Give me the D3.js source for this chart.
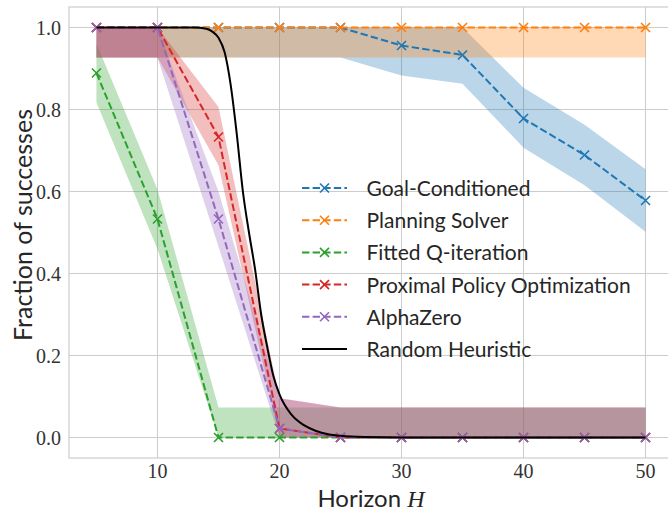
<!DOCTYPE html>
<html>
<head>
<meta charset="utf-8">
<script src="https://cdn.jsdelivr.net/npm/d3@7"></script>
<style>
  body { margin: 0; background: #fff; }
  svg { display: block; }
</style>
</head>
<body>
<svg id="chart"></svg>
<script>
// horizons on the x axis
const horizons = [5, 10, 15, 20, 25, 30, 35, 40, 45, 50];

// mean success fraction per method, with the shaded band
const goalMean  = [1, 1, 1, 1, 1, 0.956, 0.933, 0.778, 0.689, 0.578];
const goalLow   = [0.927, 0.927, 0.927, 0.927, 0.927, 0.883, 0.863, 0.707, 0.615, 0.502];
const goalHigh  = [1, 1, 1, 1, 1, 1, 1, 0.853, 0.763, 0.654];

const planMean  = [1, 1, 1, 1, 1, 1, 1, 1, 1, 1];
const planLow   = [0.927, 0.927, 0.927, 0.927, 0.927, 0.927, 0.927, 0.927, 0.927, 0.927];
const planHigh  = [1, 1, 1, 1, 1, 1, 1, 1, 1, 1];

const fqiMean   = [0.889, 0.533, 0, 0, 0, 0, 0, 0, 0, 0];
const fqiLow    = [0.817, 0.46, 0, 0, 0, 0, 0, 0, 0, 0];
const fqiHigh   = [0.961, 0.605, 0.073, 0.073, 0.073, 0.073, 0.073, 0.073, 0.073, 0.073];

const ppoMean   = [1, 1, 0.733, 0.022, 0, 0, 0, 0, 0, 0];
const ppoLow    = [0.927, 0.927, 0.664, 0, 0, 0, 0, 0, 0, 0];
const ppoHigh   = [1, 1, 0.806, 0.096, 0.073, 0.073, 0.073, 0.073, 0.073, 0.073];

const azMean    = [1, 1, 0.533, 0.022, 0, 0, 0, 0, 0, 0];
const azLow     = [0.927, 0.927, 0.466, 0, 0, 0, 0, 0, 0, 0];
const azHigh    = [1, 1, 0.6, 0.096, 0.073, 0.073, 0.073, 0.073, 0.073, 0.073];

// random heuristic curve
const randomH = [5, 10, 13, 14, 14.5, 15, 15.5, 16, 16.5, 17, 17.5, 18, 18.5, 19, 19.5, 20, 21, 22, 23, 24, 25, 27, 30, 40, 50];
const randomV = [1, 1, 1, 0.997, 0.99, 0.975, 0.94, 0.86, 0.74, 0.6, 0.5, 0.41, 0.3, 0.22, 0.15, 0.105, 0.055, 0.03, 0.016, 0.008, 0.004, 0.001, 0, 0, 0];

const xTicks = [10, 20, 30, 40, 50];
const yTicks = [0, 0.2, 0.4, 0.6, 0.8, 1.0];

const series = [
  {name: "Goal-Conditioned", color: "#1f77b4", mean: goalMean, low: goalLow, high: goalHigh},
  {name: "Planning Solver", color: "#ff7f0e", mean: planMean, low: planLow, high: planHigh},
  {name: "Fitted Q-iteration", color: "#2ca02c", mean: fqiMean, low: fqiLow, high: fqiHigh},
  {name: "Proximal Policy Optimization", color: "#d62728", mean: ppoMean, low: ppoLow, high: ppoHigh},
  {name: "AlphaZero", color: "#9467bd", mean: azMean, low: azLow, high: azHigh}
];

const width = 668, height = 513;
const margin = {top: 7, left: 69, right: 673, bottom: 458};

const svg = d3.select("#chart").attr("width", width).attr("height", height);

const x = d3.scaleLinear().domain([2.75, 52.25]).range([margin.left, margin.right]);
const y = d3.scaleLinear().domain([-0.05, 1.05]).range([margin.bottom, margin.top]);

svg.append("defs").append("clipPath").attr("id", "clip")
  .append("rect")
  .attr("x", margin.left).attr("y", margin.top)
  .attr("width", margin.right - margin.left).attr("height", margin.bottom - margin.top);

// grid
const grid = svg.append("g").attr("stroke", "#cccccc").attr("stroke-width", 1);
grid.selectAll(".gx").data(xTicks).join("line")
  .attr("x1", d => x(d)).attr("x2", d => x(d))
  .attr("y1", margin.top).attr("y2", margin.bottom);
grid.selectAll(".gy").data(yTicks).join("line")
  .attr("x1", margin.left).attr("x2", margin.right)
  .attr("y1", d => y(d)).attr("y2", d => y(d));

// frame
svg.append("rect")
  .attr("x", margin.left).attr("y", margin.top)
  .attr("width", margin.right - margin.left).attr("height", margin.bottom - margin.top)
  .attr("fill", "none").attr("stroke", "#cccccc").attr("stroke-width", 1.2);

const plot = svg.append("g").attr("clip-path", "url(#clip)");

// bands
const area = d3.area()
  .x((d, i) => x(horizons[i]))
  .y0(d => y(d[0]))
  .y1(d => y(d[1]));

series.forEach(s => {
  plot.append("path")
    .datum(s.low.map((v, i) => [v, s.high[i]]))
    .attr("d", area)
    .attr("fill", s.color)
    .attr("fill-opacity", 0.3);
});

// dashed lines with x markers
const line = d3.line().x((d, i) => x(horizons[i])).y(d => y(d));
const xMark = r => `M${-r},${-r}L${r},${r}M${-r},${r}L${r},${-r}`;

series.forEach(s => {
  plot.append("path")
    .datum(s.mean)
    .attr("d", line)
    .attr("fill", "none")
    .attr("stroke", s.color)
    .attr("stroke-width", 2)
    .attr("stroke-dasharray", "7.4,3.2");
  plot.selectAll(null).data(s.mean).join("path")
    .attr("transform", (d, i) => `translate(${x(horizons[i])},${y(d)})`)
    .attr("d", xMark(4.5))
    .attr("stroke", s.color)
    .attr("stroke-width", 1.6);
});

// random heuristic
plot.append("path")
  .datum(randomV)
  .attr("d", d3.line().x((d, i) => x(randomH[i])).y(d => y(d)).curve(d3.curveMonotoneX))
  .attr("fill", "none")
  .attr("stroke", "#000")
  .attr("stroke-width", 2);

// tick labels
const tickFont = "'Liberation Serif', 'DejaVu Serif', serif";
svg.append("g").selectAll("text").data(xTicks).join("text")
  .attr("x", d => x(d)).attr("y", 478)
  .attr("text-anchor", "middle")
  .attr("font-family", tickFont).attr("font-size", 20).attr("fill", "#333")
  .text(d => d);
svg.append("g").selectAll("text").data(yTicks).join("text")
  .attr("x", 61).attr("y", d => y(d))
  .attr("dy", "0.35em")
  .attr("text-anchor", "end")
  .attr("font-family", tickFont).attr("font-size", 20).attr("fill", "#333")
  .text(d => d.toFixed(1));

// axis titles
const labelFont = "Lato, 'Open Sans', sans-serif";
const xt = svg.append("text")
  .attr("x", (margin.left + margin.right) / 2).attr("y", 507)
  .attr("text-anchor", "middle")
  .attr("font-family", labelFont).attr("font-size", 24).attr("fill", "#262626");
xt.append("tspan").text("Horizon ");
xt.append("tspan").attr("font-family", tickFont).attr("font-style", "italic").text("H");

svg.append("text")
  .attr("transform", "translate(32,225) rotate(-90)")
  .attr("text-anchor", "middle")
  .attr("font-family", labelFont).attr("font-size", 25).attr("fill", "#262626")
  .text("Fraction of successes");

// legend
const legendItems = series.map(s => ({name: s.name, color: s.color, marker: true}))
  .concat([{name: "Random Heuristic", color: "#000", marker: false}]);
const legend = svg.append("g");
legendItems.forEach((d, i) => {
  const ly = 188 + i * 32.2;
  legend.append("line")
    .attr("x1", 302).attr("x2", 347).attr("y1", ly).attr("y2", ly)
    .attr("stroke", d.color).attr("stroke-width", 2)
    .attr("stroke-dasharray", d.marker ? "7.4,3.2" : null);
  if (d.marker) {
    legend.append("path")
      .attr("transform", `translate(324.5,${ly})`)
      .attr("d", xMark(4.5))
      .attr("stroke", d.color).attr("stroke-width", 1.6);
  }
  legend.append("text")
    .attr("x", 366.5).attr("y", ly + 8)
    .attr("font-family", labelFont).attr("font-size", 21).attr("fill", "#262626")
    .text(d.name);
});
</script>
</body>
</html>
